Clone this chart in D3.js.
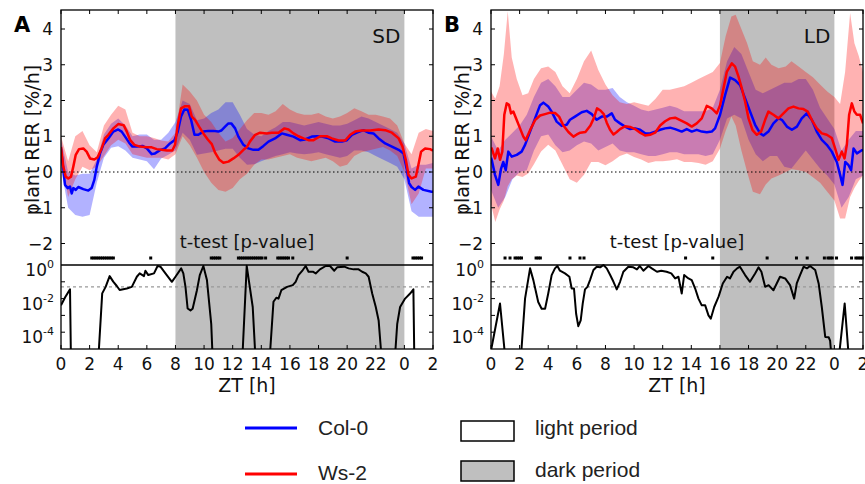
<!DOCTYPE html>
<html><head><meta charset="utf-8">
<script src="https://cdn.jsdelivr.net/npm/d3@7"></script>
<style>body{margin:0;background:#fff}svg{display:block}</style>
</head><body><svg id="c" width="865" height="484"></svg>
<script>
// ---------- axis tick data ----------
const hourTicks = [0,2,4,6,8,10,12,14,16,18,20,22,24,26];
const hourTickLabels = ["0","2","4","6","8","10","12","14","16","18","20","22","0","2"];
const rerTicks = [-2,-1,0,1,2,3,4];
const rerTickLabels = ["\u22122","\u22121","0","1","2","3","4"];
const pTickExponents = [0,-2,-4];
const pThreshold = 0.05;
const seriesNames = ["Col-0","Ws-2"];
const periodNames = ["light period","dark period"];

// ---------- panel A (SD) ----------
const sdDark = [8, 24];
const sdBandTime = [0,0.5,1,1.5,2,2.5,3,3.5,4,4.5,5,5.5,6,6.5,7,7.5,8,8.5,9,9.5,10,10.5,11,11.5,12,12.5,13,13.5,14,14.5,15,15.5,16,16.5,17,17.5,18,18.5,19,19.5,20,20.5,21,21.5,22,22.5,23,23.5,24,24.5,25,25.5,26];
const sdColHi = [0.9,0.0,-0.1,-0.05,-0.05,0.35,1.05,1.35,1.5,1.3,1.0,1.05,1.05,0.9,0.9,1.1,1.4,2.0,1.9,1.45,1.5,1.65,1.75,1.95,1.95,1.6,1.2,1.05,1.0,1.15,1.25,1.4,1.4,1.35,1.3,1.35,1.4,1.35,1.3,1.3,1.35,1.45,1.55,1.5,1.4,1.3,1.2,1.1,0.8,0.1,0.2,0.2,0.25];
const sdColLo = [0.1,-1.0,-1.2,-1.25,-1.2,-0.3,0.4,0.68,0.72,0.6,0.4,0.35,0.3,0.08,0.38,0.48,0.6,1.1,0.9,0.48,0.52,0.55,0.6,0.65,0.65,0.4,0.2,0.22,0.3,0.38,0.45,0.5,0.55,0.52,0.5,0.52,0.55,0.5,0.45,0.4,0.45,0.6,0.6,0.55,0.45,0.35,0.25,0.15,-0.2,-1.1,-1.25,-1.25,-1.25];
const sdWsHi = [1.0,0.3,1.0,1.15,0.75,0.55,1.3,1.6,1.85,1.75,1.1,1.0,1.0,0.95,0.88,0.85,1.1,2.45,2.25,2.0,1.6,1.4,1.1,0.85,0.95,1.2,1.45,1.65,1.65,1.6,1.7,1.9,1.75,1.65,1.6,1.6,1.65,1.55,1.5,1.55,1.65,1.78,1.7,1.6,1.6,1.55,1.5,1.3,0.8,0.5,1.1,1.2,1.15];
const sdWsLo = [0.3,-0.7,-0.2,0.15,0.05,0.15,0.45,0.75,0.9,0.8,0.5,0.45,0.4,0.4,0.4,0.35,0.5,1.0,0.75,0.4,0.0,-0.3,-0.5,-0.55,-0.45,-0.2,-0.05,0.2,0.35,0.35,0.4,0.45,0.5,0.4,0.35,0.3,0.35,0.4,0.3,0.15,0.2,0.45,0.55,0.6,0.65,0.7,0.6,0.45,0.0,-0.9,-0.6,0.1,0.1];
const sdColMean = [[0,0.65],[0.1,0.3],[0.28,-0.36],[0.47,-0.45],[0.63,-0.41],[0.75,-0.6],[0.86,-0.45],[1.03,-0.5],[1.21,-0.42],[1.56,-0.48],[1.91,-0.52],[2.14,-0.45],[2.33,-0.22],[2.5,0.15],[2.73,0.52],[2.96,0.76],[3.31,0.94],[3.66,1.13],[4.0,1.19],[4.24,1.13],[4.48,0.99],[4.76,0.82],[4.99,0.71],[5.3,0.71],[5.69,0.73],[6.0,0.66],[6.34,0.5],[6.57,0.52],[6.92,0.61],[7.27,0.66],[7.62,0.8],[7.93,0.89],[8.16,1.13],[8.39,1.55],[8.62,1.75],[8.86,1.74],[9.09,1.46],[9.33,1.04],[9.6,1.04],[9.95,1.13],[10.3,1.15],[10.65,1.15],[11.0,1.13],[11.2,1.16],[11.47,1.27],[11.7,1.36],[11.9,1.36],[12.17,1.22],[12.4,0.99],[12.75,0.76],[13.1,0.66],[13.45,0.62],[13.8,0.62],[14.15,0.73],[14.5,0.85],[14.96,0.94],[15.43,1.08],[15.78,1.04],[16.25,0.99],[16.71,0.89],[17.06,0.91],[17.53,0.99],[17.88,1.0],[18.23,0.99],[18.7,0.94],[19.16,0.85],[19.63,0.85],[19.98,0.89],[20.33,1.04],[20.68,1.1],[21.14,1.17],[21.49,1.1],[21.84,1.08],[22.2,0.94],[22.66,0.8],[23.13,0.71],[23.6,0.62],[23.94,0.52],[24.17,0.06],[24.33,-0.31],[24.5,-0.42],[24.75,-0.5],[24.98,-0.41],[25.33,-0.5],[25.9,-0.55],[26,-0.55]];
const sdWsMean = [[0,0.7],[0.16,0.15],[0.33,-0.13],[0.51,-0.18],[0.7,-0.13],[0.86,0.15],[1.03,0.48],[1.26,0.64],[1.56,0.66],[1.79,0.57],[2.03,0.38],[2.33,0.35],[2.56,0.41],[2.84,0.66],[3.08,0.94],[3.31,1.04],[3.66,1.22],[4.0,1.34],[4.38,1.31],[4.6,1.13],[4.84,0.89],[5.13,0.76],[5.52,0.71],[6.0,0.69],[6.34,0.69],[6.69,0.64],[7.04,0.62],[7.4,0.6],[7.78,0.6],[7.97,0.76],[8.16,1.31],[8.39,1.78],[8.67,1.84],[8.95,1.84],[9.14,1.55],[9.37,1.46],[9.65,1.27],[9.95,1.08],[10.26,0.91],[10.54,0.78],[10.77,0.54],[11.05,0.35],[11.35,0.26],[11.7,0.29],[12.05,0.38],[12.4,0.48],[12.75,0.62],[13.0,0.7],[13.2,0.85],[13.57,1.04],[13.92,1.1],[14.38,1.08],[14.73,1.1],[15.2,1.1],[15.62,1.22],[15.9,1.19],[16.25,1.08],[16.6,1.0],[16.95,0.94],[17.3,0.89],[17.65,0.89],[18.11,1.0],[18.58,1.0],[18.93,0.94],[19.4,0.88],[19.86,0.88],[20.21,1.04],[20.56,1.13],[21.0,1.16],[21.61,1.16],[22.2,1.19],[22.66,1.17],[23.13,1.1],[23.6,0.94],[23.87,0.71],[24.1,0.34],[24.29,-0.08],[24.5,-0.18],[24.8,-0.13],[24.98,0.2],[25.17,0.57],[25.45,0.66],[25.8,0.64],[26,0.6]];
// t-test: [hour, log10(p)]
const sdPValueLog = [[0,-2.4],[0.3,-1.9],[0.63,-1.45],[0.7,-6],[2.58,-6],[2.88,-1.69],[3.12,-1.3],[3.4,-0.66],[3.65,-0.99],[3.9,-1.25],[4.1,-1.49],[4.6,-1.4],[4.95,-1.3],[5.3,-0.7],[5.5,-0.5],[5.8,-0.66],[5.9,-0.34],[6.1,-0.6],[6.5,-0.5],[6.75,-0.06],[6.95,-0.1],[7.3,-0.5],[7.75,-1.0],[8.0,-0.7],[8.4,-0.2],[8.55,-0.5],[8.7,-1.3],[8.85,-2.59],[9.05,-2.7],[9.2,-2.6],[9.5,-1.5],[9.7,-0.6],[9.95,-0.06],[10.2,-0.9],[10.5,-3.5],[10.62,-6],[12.65,-6],[12.98,-0.05],[13.4,-2.5],[13.62,-6],[14.55,-6],[14.85,-2.19],[15.05,-1.95],[15.2,-2.0],[15.4,-1.5],[15.8,-1.3],[16.2,-1.2],[16.4,-1.0],[16.6,-0.6],[16.9,-0.3],[17.1,-0.06],[17.3,-0.4],[17.6,-0.4],[17.8,-0.5],[18.1,-0.26],[18.5,-0.06],[18.8,-0.06],[19.1,-0.34],[19.3,-0.14],[19.8,-0.1],[20.1,-0.2],[20.45,-0.26],[20.8,-0.26],[21.05,-0.4],[21.3,-0.5],[21.5,-0.7],[21.75,-1.7],[22.0,-2.5],[22.2,-3.3],[22.45,-6],[23.3,-6],[23.5,-3.5],[23.7,-2.5],[24.05,-2.0],[24.4,-1.7],[24.63,-1.45],[24.7,-6],[26,-6]];
const sdSignificant = [2.15,2.3,2.45,2.6,2.75,2.9,3.05,3.2,3.35,3.5,3.66,6.27,10.5,10.65,10.8,10.95,11.1,12.4,12.55,12.7,12.85,13.0,13.15,13.3,13.45,13.6,13.75,13.9,14.05,14.3,15.15,15.3,15.45,15.6,15.75,15.9,16.2,20.0,24.6,24.75,24.9,25.05,25.2];

// ---------- panel B (LD) ----------
const ldDark = [16, 24];
const ldColBandTime = [0,0.5,1,1.5,2,2.5,3,3.5,4,4.5,5,5.5,6,6.5,7,7.5,8,8.5,9,9.5,10,10.5,11,11.5,12,12.5,13,13.5,14,14.5,15,15.5,16,16.5,17,17.5,18,18.5,19,19.5,20,20.5,21,21.5,22,22.5,23,23.5,24,24.5,25,25.5,26];
const ldColHi = [1.0,0.6,0.9,1.1,1.3,1.6,2.1,2.5,2.6,2.4,2.1,2.1,2.3,2.5,2.45,2.3,2.3,2.35,2.1,1.95,1.85,1.75,1.7,1.75,1.8,1.85,1.8,1.7,1.7,1.7,1.7,1.8,2.3,3.1,3.5,3.3,2.8,2.3,2.2,2.3,2.4,2.5,2.5,2.6,2.6,2.3,1.8,1.5,1.2,0.6,0.9,1.15,1.15];
const ldColLo = [-0.5,-1.0,-0.7,-0.2,0.0,0.05,0.6,1.0,1.05,0.75,0.55,0.6,0.75,0.85,0.8,0.6,0.7,0.8,0.6,0.55,0.55,0.5,0.45,0.45,0.5,0.55,0.55,0.5,0.5,0.5,0.45,0.5,0.9,1.5,1.6,1.5,0.9,0.5,0.3,0.45,0.45,0.15,0.1,0.35,0.6,0.35,0.1,-0.1,-0.35,-1.0,-0.7,-0.2,-0.1];
const ldWsBandTime = [0,0.3,0.6,0.9,1.17,1.45,1.8,2.2,2.6,3.0,3.5,4.0,4.5,5.0,5.5,6.0,6.5,7.0,7.5,8.0,8.5,9.0,9.5,10,10.5,11,11.5,12,12.5,13,13.5,14,14.5,15,15.5,16,16.4,16.8,17.1,17.5,17.9,18.3,18.8,19.2,19.6,20.1,20.6,21,21.5,22,22.5,23,23.5,24,24.4,24.75,25.1,25.4,25.7,26];
const ldWsHi = [2.25,2.05,2.4,3.3,4.5,3.2,2.6,2.15,2.2,2.6,2.9,2.95,2.8,2.4,2.2,2.6,3.1,3.4,2.85,2.45,2.15,1.95,1.9,1.95,1.9,1.85,2.05,2.3,2.3,2.35,2.4,2.5,2.6,2.7,2.8,3.05,3.8,4.35,4.4,4.0,3.6,3.1,3.0,3.2,3.0,2.9,2.95,3.1,2.95,2.8,2.65,2.45,2.25,2.1,1.9,2.8,4.45,3.6,3.25,2.8];
const ldWsLo = [-0.9,-1.4,-1.05,-0.8,-0.4,-0.2,-0.1,-0.14,-0.04,0.22,0.57,0.76,0.6,0.2,-0.2,-0.3,-0.08,0.28,0.28,0.19,0.3,0.45,0.52,0.42,0.35,0.25,0.3,0.3,0.32,0.36,0.28,0.28,0.25,0.2,0.3,0.65,1.15,1.55,1.3,0.6,0.0,-0.55,-0.62,-0.35,-0.18,-0.1,0.0,0.08,0.05,0.0,-0.15,-0.3,-0.55,-0.8,-1.3,-1.3,-0.7,-0.45,-0.25,-0.1];
const ldColMean = [[0,0.4],[0.05,0.34],[0.28,-0.08],[0.51,-0.36],[0.7,0.09],[0.86,0.28],[1.03,0.05],[1.21,0.57],[1.45,0.43],[1.8,0.48],[2.14,0.57],[2.38,0.76],[2.73,1.13],[3.08,1.5],[3.43,1.87],[3.66,1.94],[4.0,1.83],[4.24,1.69],[4.59,1.41],[4.94,1.29],[5.29,1.32],[5.52,1.46],[5.87,1.55],[6.34,1.67],[6.69,1.71],[7.04,1.62],[7.39,1.46],[7.74,1.55],[8.09,1.55],[8.44,1.64],[8.67,1.46],[9.02,1.36],[9.37,1.27],[9.72,1.2],[10.07,1.22],[10.42,1.18],[10.77,1.08],[11.12,1.08],[11.47,1.13],[11.82,1.18],[12.17,1.22],[12.52,1.24],[12.87,1.2],[13.33,1.13],[13.68,1.2],[14.03,1.13],[14.38,1.18],[14.73,1.13],[15.08,1.11],[15.43,1.13],[15.66,1.22],[16.01,1.6],[16.36,2.15],[16.71,2.64],[17.06,2.57],[17.41,2.43],[17.76,2.06],[18.11,1.69],[18.46,1.32],[18.81,1.08],[19.04,1.02],[19.39,1.13],[19.74,1.36],[20.09,1.5],[20.33,1.46],[20.68,1.27],[21.03,1.18],[21.38,1.27],[21.72,1.5],[22.07,1.64],[22.42,1.46],[22.77,1.13],[23.12,0.9],[23.47,0.76],[23.82,0.57],[24.17,0.28],[24.4,-0.08],[24.57,-0.36],[24.76,0.28],[24.99,0.19],[25.17,0.05],[25.34,0.66],[25.57,0.52],[25.92,0.61],[26,0.62]];
const ldWsMean = [[0,0.68],[0.05,0.66],[0.28,0.38],[0.47,0.66],[0.63,0.34],[0.79,0.57],[0.93,1.6],[1.1,1.92],[1.26,1.88],[1.4,1.64],[1.56,1.69],[1.79,1.46],[2.03,1.22],[2.26,0.99],[2.42,0.89],[2.73,1.17],[3.08,1.45],[3.43,1.58],[3.78,1.62],[4.13,1.66],[4.48,1.65],[4.76,1.55],[5.06,1.3],[5.41,1.12],[5.76,0.99],[6.0,1.05],[6.24,1.1],[6.6,1.12],[6.95,1.3],[7.18,1.5],[7.41,1.78],[7.65,1.72],[7.88,1.62],[8.09,1.38],[8.32,1.18],[8.56,1.05],[8.79,1.12],[9.02,1.2],[9.37,1.28],[9.72,1.26],[10.07,1.2],[10.42,1.1],[10.77,1.02],[11.12,1.04],[11.47,1.1],[11.82,1.3],[12.17,1.42],[12.52,1.5],[12.87,1.52],[13.33,1.43],[13.68,1.36],[14.03,1.27],[14.38,1.36],[14.73,1.5],[15.08,1.85],[15.43,1.78],[15.78,1.64],[16.01,1.87],[16.25,2.34],[16.48,2.8],[16.83,3.04],[17.06,2.95],[17.3,2.67],[17.53,2.34],[17.76,1.97],[18.0,1.5],[18.28,1.17],[18.58,1.04],[18.88,1.13],[19.16,1.46],[19.39,1.69],[19.74,1.6],[20.09,1.5],[20.44,1.64],[20.79,1.78],[21.14,1.83],[21.49,1.78],[21.84,1.76],[22.14,1.69],[22.42,1.46],[22.77,1.22],[23.12,1.08],[23.47,1.04],[23.82,0.95],[24.05,0.66],[24.29,0.34],[24.52,0.57],[24.71,0.38],[24.87,0.76],[25.03,1.6],[25.22,1.92],[25.4,1.69],[25.57,1.6],[25.8,1.6],[26,1.36]];
const ldPValueLog = [[0,-5.1],[0.63,-2.29],[1.05,-6],[2.05,-6],[2.38,-2.0],[2.73,-0.2],[2.96,-0.9],[3.3,-2.2],[3.54,-2.6],[3.78,-2.6],[4.0,-1.7],[4.24,-0.6],[4.47,-0.2],[4.64,-0.06],[4.82,-0.34],[5.17,-0.5],[5.48,-0.7],[5.64,-1.4],[5.8,-1.4],[5.95,-2.9],[6.1,-3.64],[6.27,-3.3],[6.41,-2.3],[6.57,-1.45],[6.74,-1.3],[6.92,-0.9],[7.16,-0.3],[7.39,-0.1],[7.63,-0.14],[7.86,0],[8.09,-0.2],[8.33,-0.6],[8.56,-1.0],[8.79,-1.45],[9.02,-1.0],[9.25,-0.4],[9.6,-0.1],[9.95,-0.14],[10.2,-0.26],[10.4,-0.06],[10.65,-0.34],[11.0,-0.06],[11.24,-0.2],[11.6,-0.4],[11.9,-0.34],[12.27,-0.4],[12.6,-0.5],[12.87,-0.8],[13.1,-0.7],[13.33,-1.7],[13.5,-0.6],[13.8,-0.8],[14.03,-0.9],[14.27,-1.4],[14.5,-2.0],[14.73,-2.4],[14.97,-2.4],[15.2,-3.0],[15.36,-3.2],[15.6,-2.5],[15.9,-1.9],[16.2,-1.1],[16.5,-0.7],[16.7,-0.8],[16.95,-0.4],[17.2,-0.2],[17.4,-0.1],[17.76,-0.6],[18.1,-1.0],[18.46,-0.5],[18.7,-0.14],[18.9,-0.4],[19.16,-1.3],[19.4,-1.2],[19.74,-1.5],[19.97,-1.1],[20.2,-0.7],[20.56,-0.8],[20.9,-1.2],[21.19,-2.0],[21.37,-1.1],[21.6,-0.6],[21.85,-0.1],[22.08,-0.2],[22.3,-0.06],[22.66,-0.3],[22.9,-1.1],[23.12,-2.5],[23.36,-4.28],[23.6,-4.3],[23.7,-4.5],[23.85,-6],[24.25,-6],[24.72,-2.29],[25.05,-6],[26,-6]];
const ldSignificant = [0.98,1.33,1.68,1.83,1.98,2.13,3.15,3.3,3.45,5.52,6.22,6.5,13.6,15.5,19.3,21.35,22.1,23.3,23.55,23.7,23.85,24.15,25.2,25.5,25.65,25.8,25.95];

// ---------- drawing ----------
const svg = d3.select("#c");
const FONT = "DejaVu Sans, Liberation Sans, sans-serif";
const GRAY = "#bfbfbf";
const BLUE = "#0000ff", RED = "#ff0000";

function drawPanel(id, dx, letter, tag, dark, colBandT, colLo, colHi, wsBandT, wsLo, wsHi, colMean, wsMean, pLog, sig) {
  const g = svg.append("g");
  const x = d3.scaleLinear().domain([0, 26]).range([61 + dx, 433 + dx]);
  const yU = d3.scaleLinear().domain([-2, 4]).range([243.5, 29]);
  const yL = d3.scaleLog().domain([1e-5, 1]).range([349, 265]);
  const top = 10, bottom = 349;
  const x0 = x.range()[0], x1 = x.range()[1];

  const defs = svg.append("defs");
  defs.append("clipPath").attr("id", "cu" + id).append("rect")
    .attr("x", x0).attr("y", top).attr("width", x1 - x0).attr("height", 265 - top);
  defs.append("clipPath").attr("id", "cl" + id).append("rect")
    .attr("x", x0).attr("y", 255).attr("width", x1 - x0).attr("height", bottom - 255);

  // dark period shading
  g.append("rect").attr("x", x(dark[0])).attr("y", top)
    .attr("width", x(dark[1]) - x(dark[0])).attr("height", bottom - top).attr("fill", GRAY);

  const up = g.append("g").attr("clip-path", `url(#cu${id})`);
  const colBand = colBandT.map((t, i) => ({t, lo: colLo[i], hi: colHi[i]}));
  const wsBand = wsBandT.map((t, i) => ({t, lo: wsLo[i], hi: wsHi[i]}));
  const area = d3.area().x(d => x(d.t)).y0(d => yU(d.lo)).y1(d => yU(d.hi));
  up.append("path").attr("d", area(colBand)).attr("fill", BLUE).attr("fill-opacity", 0.3);
  up.append("path").attr("d", area(wsBand)).attr("fill", RED).attr("fill-opacity", 0.3);
  up.append("line").attr("x1", x0).attr("x2", x1).attr("y1", yU(0)).attr("y2", yU(0))
    .attr("stroke", "#000").attr("stroke-width", 1).attr("stroke-dasharray", "1.5,2.5");
  const line = d3.line().x(d => x(d[0])).y(d => yU(d[1]));
  up.append("path").attr("d", line(colMean)).attr("fill", "none").attr("stroke", BLUE)
    .attr("stroke-width", 2.5).attr("stroke-linejoin", "round");
  up.append("path").attr("d", line(wsMean)).attr("fill", "none").attr("stroke", RED)
    .attr("stroke-width", 2.5).attr("stroke-linejoin", "round");

  // lower t-test panel
  const lo = g.append("g").attr("clip-path", `url(#cl${id})`);
  lo.append("line").attr("x1", x0).attr("x2", x1).attr("y1", yL(pThreshold)).attr("y2", yL(pThreshold))
    .attr("stroke", "#999").attr("stroke-width", 1.2).attr("stroke-dasharray", "3,3");
  const pline = d3.line().x(d => x(d[0])).y(d => yL(Math.pow(10, d[1])));
  lo.append("path").attr("d", pline(pLog)).attr("fill", "none").attr("stroke", "#000")
    .attr("stroke-width", 2).attr("stroke-linejoin", "round");
  g.append("line").attr("x1", x0).attr("x2", x1).attr("y1", yL(1)).attr("y2", yL(1))
    .attr("stroke", "#000").attr("stroke-width", 1.5);
  g.selectAll(".sig").data(sig).enter().append("rect")
    .attr("x", d => x(d) - 1.5).attr("y", 256.5).attr("width", 3).attr("height", 3).attr("fill", "#000");

  // frame
  g.append("rect").attr("x", x0).attr("y", top).attr("width", x1 - x0).attr("height", bottom - top)
    .attr("fill", "none").attr("stroke", "#000").attr("stroke-width", 1.3);

  // ticks
  const tk = g.append("g").attr("stroke", "#000").attr("stroke-width", 1);
  hourTicks.forEach(t => {
    tk.append("line").attr("x1", x(t)).attr("x2", x(t)).attr("y1", top).attr("y2", top + 4);
    tk.append("line").attr("x1", x(t)).attr("x2", x(t)).attr("y1", bottom).attr("y2", bottom - 4);
  });
  rerTicks.forEach(v => {
    tk.append("line").attr("x1", x0).attr("x2", x0 + 4).attr("y1", yU(v)).attr("y2", yU(v));
    tk.append("line").attr("x1", x1).attr("x2", x1 - 4).attr("y1", yU(v)).attr("y2", yU(v));
  });
  [-1, -2, -3, -4].forEach(e => {
    const yy = yL(Math.pow(10, e));
    tk.append("line").attr("x1", x0).attr("x2", x0 + 4).attr("y1", yy).attr("y2", yy);
    tk.append("line").attr("x1", x1).attr("x2", x1 - 4).attr("y1", yy).attr("y2", yy);
  });

  // tick labels
  const tl = g.append("g").attr("font-family", FONT).attr("font-size", 17).attr("fill", "#111");
  hourTicks.forEach((t, i) => {
    tl.append("text").attr("x", x(t)).attr("y", 370).attr("text-anchor", "middle").text(hourTickLabels[i]);
  });
  rerTicks.forEach((v, i) => {
    tl.append("text").attr("x", x0 - 8).attr("y", yU(v) + 6).attr("text-anchor", "end").text(rerTickLabels[i]);
  });
  pTickExponents.forEach(e => {
    const t = tl.append("text").attr("x", x0 - 7).attr("y", yL(Math.pow(10, e)) + 11).attr("text-anchor", "end");
    t.append("tspan").text("10");
    t.append("tspan").attr("dy", -8).attr("font-size", 11).text(e === 0 ? "0" : "-" + Math.abs(e));
  });

  // labels
  const lab = g.append("g").attr("font-family", FONT).attr("fill", "#111");
  lab.append("text").attr("transform", `translate(${32 + dx},140) rotate(-90)`)
    .attr("text-anchor", "middle").attr("dominant-baseline", "central").attr("font-size", 19)
    .text("plant RER [%/h]");
  lab.append("text").attr("x", (x0 + x1) / 2).attr("y", 392).attr("text-anchor", "middle")
    .attr("font-size", 19).text("ZT [h]");
  lab.append("text").attr("x", (x0 + x1) / 2).attr("y", 248).attr("text-anchor", "middle")
    .attr("font-size", 18).text("t-test [p-value]");
  lab.append("text").attr("x", x(24) - 4).attr("y", 43).attr("text-anchor", "end")
    .attr("font-size", 20).text(tag);
  lab.append("text").attr("x", 14 + dx).attr("y", 32).attr("font-size", 21)
    .attr("font-weight", "bold").attr("fill", "#000").text(letter);
}

drawPanel("A", 0, "A", "SD", sdDark, sdBandTime, sdColLo, sdColHi, sdBandTime, sdWsLo, sdWsHi, sdColMean, sdWsMean, sdPValueLog, sdSignificant);
drawPanel("B", 430, "B", "LD", ldDark, ldColBandTime, ldColLo, ldColHi, ldWsBandTime, ldWsLo, ldWsHi, ldColMean, ldWsMean, ldPValueLog, ldSignificant);

// legend
const lg = svg.append("g").attr("font-family", "Liberation Sans, Arial, sans-serif").attr("font-size", 21).attr("fill", "#222");
[[BLUE, 428, 435], [RED, 474, 480]].forEach((d, i) => {
  lg.append("line").attr("x1", 245).attr("x2", 297).attr("y1", d[1]).attr("y2", d[1])
    .attr("stroke", d[0]).attr("stroke-width", 3);
  lg.append("text").attr("x", 318).attr("y", d[2]).text(seriesNames[i]);
});
[["#fff", 421, 435], [GRAY, 461, 477]].forEach((d, i) => {
  lg.append("rect").attr("x", 461).attr("y", d[1]).attr("width", 53).attr("height", 20)
    .attr("fill", d[0]).attr("stroke", "#000").attr("stroke-width", 1.5);
  lg.append("text").attr("x", 535).attr("y", d[2]).text(periodNames[i]);
});
</script></body></html>
